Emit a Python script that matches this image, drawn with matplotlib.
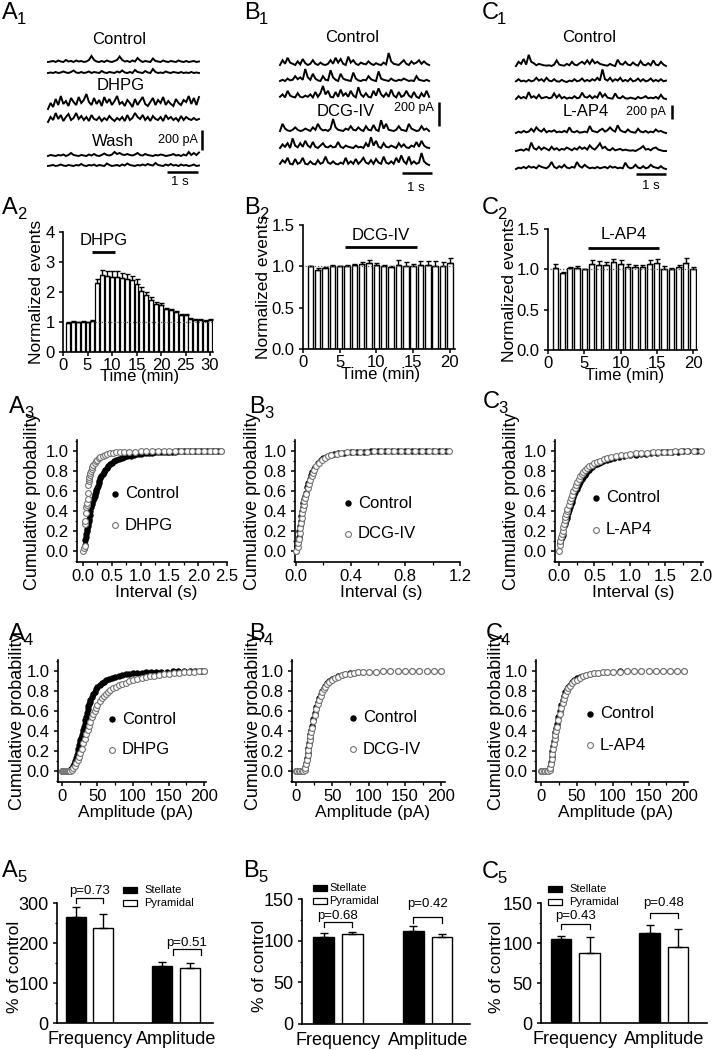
import numpy as np
import matplotlib
matplotlib.use('Agg')
import matplotlib.pyplot as plt
from matplotlib.patches import Rectangle
from matplotlib.lines import Line2D
from matplotlib.ticker import MultipleLocator, FormatStrFormatter

plt.rcParams['font.family'] = ['Liberation Sans', 'DejaVu Sans']
plt.rcParams['mathtext.default'] = 'regular'
plt.rcParams['axes.linewidth'] = 1.2
plt.rcParams['xtick.major.width'] = 1.1
plt.rcParams['ytick.major.width'] = 1.1
plt.rcParams['xtick.minor.width'] = 0.9
plt.rcParams['ytick.minor.width'] = 0.9
plt.rcParams['xtick.major.size'] = 3
plt.rcParams['ytick.major.size'] = 3
plt.rcParams['xtick.minor.size'] = 1.8
plt.rcParams['ytick.minor.size'] = 1.8
plt.rcParams['xtick.major.pad'] = 2.0
plt.rcParams['ytick.major.pad'] = 3.0

# ---------------- DATA ----------------
# Example sEPSC traces (pA, upward deflections), sampled evenly over each sweep
a_ctrl1 = [0,5,10,0,15,5,0,20,5,10,0,15,5,10,0,5,20,60,20,5,0,10,0,15,5,0,10,20,55,20,5,10,0,15,5,40,15,0,10,5,0,35,10,5,0,15,5,0,10,5,0,15,5,0,10,0,5,10,0,5]
a_ctrl2 = [0,5,0,10,0,5,15,5,0,10,25,5,0,10,0,5,15,0,10,5,0,20,5,0,10,5,0,15,5,25,5,0,10,0,30,10,5,0,20,5,0,40,10,0,5,0,15,5,0,10,5,0,10,0,5,0,10,0,5,0]
a_dhpg1 = [20,80,40,120,60,150,70,100,50,130,90,60,140,80,110,170,90,60,130,70,110,50,140,80,120,60,100,150,70,90,50,110,80,40,120,60,100,140,70,50,90,130,60,110,80,140,60,100,70,50,120,80,60,110,90,150,70,130,60,140]
a_dhpg2 = [40,90,60,130,70,110,50,90,120,60,80,130,70,100,60,90,50,110,70,60,90,50,80,60,100,70,50,80,60,90,50,110,60,80,130,90,70,110,60,90,50,100,70,60,90,50,110,70,90,60,80,50,100,60,90,70,60,80,60,70]
a_wash1 = [0,10,5,0,10,5,15,0,10,30,10,5,0,10,5,0,15,5,20,5,0,10,25,10,5,15,40,20,30,15,10,20,10,5,15,30,10,5,20,10,5,0,10,5,15,10,0,5,10,20,5,10,0,15,5,40,10,30,10,35]
a_wash2 = [0,5,10,0,5,15,5,0,10,5,0,10,5,20,5,0,10,5,15,0,10,5,0,25,10,0,5,10,0,15,5,25,10,5,0,10,5,15,5,20,10,5,30,10,5,0,15,5,20,5,10,0,15,5,10,0,5,15,0,5]

b_ctrl1 = [0,40,10,60,20,10,0,30,5,50,15,0,10,40,10,0,20,5,0,10,40,10,60,20,50,10,0,70,20,40,10,0,20,10,5,30,10,0,15,5,0,20,5,100,30,10,5,0,20,40,10,0,30,10,20,40,10,30,10,0]
b_ctrl2 = [0,10,0,20,5,10,40,15,30,10,100,30,10,60,20,5,0,40,10,5,90,30,10,0,60,20,10,5,0,70,20,5,0,10,5,40,15,5,0,80,20,10,5,0,20,5,0,10,5,20,10,0,5,0,40,10,5,0,10,0]
b_ctrl3 = [10,30,5,60,20,10,5,40,10,5,20,10,30,5,50,10,40,100,30,60,10,5,50,10,70,20,40,10,60,20,5,90,30,10,40,10,5,60,20,80,30,10,40,10,70,20,5,50,10,20,60,20,5,50,10,0,40,10,60,10]
b_dcg1 = [0,60,20,5,0,10,30,10,0,5,20,10,0,30,10,60,20,5,10,0,20,100,30,10,5,0,20,10,40,10,5,30,10,0,40,10,5,50,10,0,90,20,60,10,5,0,10,40,10,5,0,60,20,10,0,5,40,10,20,0]
b_dcg2 = [0,30,10,40,0,80,20,5,40,10,60,20,5,50,10,0,20,40,10,5,20,5,10,50,10,0,20,10,5,0,20,5,10,0,40,10,90,20,60,10,0,40,10,5,20,10,0,40,10,30,5,0,20,10,50,10,60,20,5,0]
b_dcg3 = [10,40,20,60,10,5,50,10,20,60,10,5,30,10,5,40,10,20,70,20,10,30,10,5,20,10,60,10,30,10,50,10,30,60,20,10,40,10,50,20,10,70,20,10,30,10,60,20,80,30,10,70,10,30,10,20,100,30,10,0]

c_ctrl1 = [0,60,30,100,20,160,60,40,10,30,20,10,5,10,0,20,80,20,10,5,30,10,60,20,10,40,60,30,80,30,90,40,60,30,20,10,5,30,10,0,90,30,20,60,20,10,50,20,5,70,20,10,40,10,80,20,10,60,20,0]
c_ctrl2 = [10,40,10,20,5,30,10,20,60,20,40,10,60,20,10,40,10,5,30,10,0,20,10,40,10,20,50,10,30,10,40,20,60,20,180,40,20,60,10,40,20,60,10,30,10,50,10,20,50,10,40,10,20,50,10,30,10,40,10,20]
c_ctrl3 = [0,40,10,30,10,100,20,40,10,60,10,20,30,10,20,80,20,60,10,30,5,20,10,40,10,20,90,30,20,50,10,40,20,100,30,70,20,10,5,80,20,10,40,10,5,20,10,0,30,10,20,40,10,20,10,30,5,60,10,0]
c_lap1 = [0,20,5,30,10,20,60,20,80,40,20,60,10,30,20,40,10,20,10,30,10,80,20,10,30,5,10,20,10,100,30,20,10,40,60,20,40,80,40,20,110,40,20,10,50,20,10,5,60,20,10,30,5,20,10,50,20,30,10,0]
c_lap2 = [0,10,20,5,30,10,120,40,20,60,20,50,30,10,60,20,40,10,30,20,50,30,10,40,20,60,30,50,20,80,40,20,60,110,40,60,20,10,40,10,20,30,10,20,10,5,10,0,20,40,70,20,30,10,40,50,20,10,0,0]
c_lap3 = [0,20,10,30,10,40,20,30,10,50,30,20,10,40,100,30,10,40,20,60,20,10,30,20,100,40,20,60,30,10,20,10,30,10,20,30,10,40,20,30,10,20,10,90,30,10,20,60,20,10,40,10,20,60,30,20,10,40,10,0]

# Normalized event time courses
a2_time = list(range(1, 31))
a2_vals = [0.97,1.0,0.99,1.0,0.99,1.03,2.3,2.56,2.52,2.51,2.5,2.47,2.44,2.39,2.28,2.03,1.89,1.74,1.61,1.56,1.42,1.39,1.33,1.24,1.22,1.11,1.08,1.06,1.03,1.06]
a2_err = [0.02,0.02,0.02,0.02,0.02,0.03,0.12,0.18,0.18,0.2,0.2,0.18,0.17,0.16,0.15,0.13,0.1,0.08,0.07,0.07,0.06,0.05,0.05,0.04,0.04,0.04,0.03,0.03,0.03,0.03]
a2_drug = [5.85, 10.6]
b2_time = list(range(1, 21))
b2_vals = [1.0,0.96,0.98,1.0,1.0,1.01,1.02,1.03,1.04,1.02,1.0,0.99,1.02,1.01,1.0,1.02,1.02,1.01,1.01,1.04]
b2_err = [0.01,0.02,0.01,0.02,0.01,0.01,0.01,0.02,0.04,0.02,0.02,0.01,0.06,0.04,0.03,0.05,0.05,0.05,0.04,0.06]
b2_drug = [5.7, 15.5]
c2_time = list(range(1, 21))
c2_vals = [1.02,0.95,1.02,1.02,1.0,1.06,1.05,1.05,1.09,1.07,1.03,1.03,1.03,1.07,1.08,1.01,1.0,1.03,1.08,1.01]
c2_err = [0.05,0.02,0.01,0.02,0.0,0.05,0.05,0.04,0.04,0.04,0.04,0.02,0.02,0.05,0.05,0.03,0.02,0.02,0.06,0.02]
c2_drug = [5.5, 15.3]

# Cumulative probability: inter-event interval (s)
a3_ctrl_x = [0.02,0.03,0.035,0.045,0.055,0.065,0.075,0.085,0.09,0.1,0.11,0.12,0.13,0.14,0.15,0.16,0.17,0.185,0.2,0.21,0.22,0.23,0.24,0.255,0.27,0.285,0.3,0.32,0.34,0.36,0.38,0.41,0.44,0.47,0.5,0.54,0.58,0.62,0.67,0.72,0.77,0.83,0.89,0.95,1.0,1.05,1.1,1.15,1.2,1.25,1.3,1.35,1.4,1.45,1.5,1.55,1.6,1.65,1.7,1.75,1.8,1.85,1.9,1.95,2.0,2.05,2.1,2.15,2.2,2.25,2.3,2.35,2.4]
a3_ctrl_y = [0.02,0.06,0.11,0.14,0.17,0.2,0.22,0.25,0.27,0.3,0.32,0.36,0.4,0.44,0.47,0.49,0.51,0.53,0.55,0.57,0.59,0.61,0.63,0.655,0.68,0.705,0.73,0.75,0.77,0.79,0.81,0.83,0.85,0.87,0.885,0.9,0.91,0.92,0.93,0.94,0.95,0.955,0.962,0.968,0.972,0.976,0.979,0.982,0.984,0.986,0.988,0.99,0.991,0.992,0.993,0.994,0.995,0.996,0.996,0.997,0.997,0.998,0.998,0.999,0.999,0.999,1.0,1.0,1.0,1.0,1.0,1.0,1.0]
a3_drug_x = [0.0,0.02,0.03,0.035,0.04,0.05,0.06,0.065,0.075,0.08,0.085,0.09,0.1,0.105,0.11,0.12,0.13,0.14,0.15,0.165,0.18,0.2,0.22,0.24,0.27,0.3,0.34,0.38,0.42,0.47,0.52,0.58,0.65,0.72,0.8,0.9,1.0,1.1,1.2,1.3,1.4,1.5,1.6,1.7,1.8,1.9,2.0,2.1,2.2,2.3,2.4]
a3_drug_y = [0.0,0.03,0.05,0.27,0.3,0.38,0.44,0.46,0.48,0.52,0.58,0.66,0.7,0.72,0.74,0.76,0.78,0.8,0.82,0.84,0.86,0.88,0.9,0.91,0.93,0.94,0.955,0.965,0.972,0.978,0.982,0.986,0.989,0.991,0.993,0.995,0.996,0.997,0.998,0.998,0.999,0.999,1.0,1.0,1.0,1.0,1.0,1.0,1.0,1.0,1.0]
b3_ctrl_x = [0.0,0.01,0.015,0.02,0.025,0.03,0.035,0.04,0.045,0.05,0.055,0.06,0.065,0.07,0.08,0.09,0.1,0.11,0.12,0.13,0.14,0.16,0.18,0.2,0.22,0.25,0.28,0.31,0.35,0.4,0.45,0.5,0.55,0.6,0.65,0.7,0.75,0.8,0.85,0.9,0.95,1.0,1.05,1.1]
b3_ctrl_y = [0.0,0.05,0.09,0.14,0.2,0.25,0.3,0.35,0.4,0.44,0.48,0.52,0.55,0.58,0.64,0.68,0.72,0.76,0.79,0.82,0.84,0.88,0.91,0.93,0.945,0.96,0.97,0.978,0.985,0.99,0.993,0.995,0.997,0.998,0.998,0.999,0.999,1,1,1,1,1,1,1]
b3_drug_x = [0.0,0.012,0.017,0.022,0.027,0.032,0.037,0.042,0.047,0.052,0.057,0.062,0.067,0.072,0.085,0.095,0.105,0.115,0.125,0.135,0.15,0.17,0.19,0.21,0.235,0.26,0.3,0.33,0.37,0.42,0.47,0.52,0.57,0.62,0.67,0.72,0.77,0.82,0.87,0.92,0.97,1.02,1.07,1.12]
b3_drug_y = [0.0,0.04,0.08,0.12,0.18,0.23,0.28,0.33,0.38,0.42,0.46,0.5,0.53,0.57,0.63,0.67,0.71,0.75,0.78,0.81,0.85,0.88,0.91,0.93,0.95,0.96,0.972,0.98,0.986,0.99,0.993,0.995,0.997,0.998,0.998,0.999,0.999,1,1,1,1,1,1,1]
c3_ctrl_x = [0.01,0.02,0.03,0.04,0.05,0.06,0.07,0.08,0.09,0.1,0.11,0.12,0.13,0.14,0.155,0.17,0.18,0.19,0.2,0.215,0.23,0.25,0.27,0.285,0.3,0.32,0.34,0.36,0.38,0.4,0.42,0.44,0.47,0.5,0.53,0.56,0.59,0.62,0.67,0.72,0.78,0.85,0.92,1.0,1.08,1.15,1.22,1.3,1.38,1.45,1.52,1.6,1.68,1.75,1.82,1.9,1.95,2.0]
c3_ctrl_y = [0.08,0.1,0.12,0.14,0.16,0.2,0.25,0.27,0.29,0.31,0.33,0.35,0.38,0.41,0.44,0.47,0.49,0.51,0.54,0.57,0.59,0.62,0.65,0.67,0.69,0.72,0.74,0.76,0.78,0.8,0.815,0.83,0.845,0.86,0.87,0.885,0.893,0.9,0.91,0.92,0.93,0.94,0.95,0.96,0.965,0.97,0.975,0.98,0.984,0.987,0.99,0.992,0.994,0.996,0.997,0.998,0.999,1.0]
c3_drug_x = [0.0,0.01,0.02,0.03,0.04,0.05,0.06,0.07,0.08,0.09,0.1,0.11,0.12,0.135,0.15,0.165,0.18,0.2,0.22,0.24,0.26,0.28,0.3,0.32,0.34,0.37,0.4,0.43,0.46,0.5,0.54,0.58,0.63,0.68,0.74,0.8,0.87,0.94,1.0,1.08,1.16,1.24,1.32,1.4,1.48,1.56,1.64,1.72,1.8,1.9,2.0]
c3_drug_y = [0.0,0.06,0.1,0.14,0.17,0.2,0.24,0.27,0.31,0.34,0.37,0.4,0.42,0.46,0.5,0.53,0.56,0.6,0.63,0.66,0.69,0.72,0.75,0.77,0.79,0.81,0.83,0.85,0.865,0.88,0.895,0.905,0.92,0.93,0.94,0.95,0.958,0.965,0.97,0.976,0.981,0.985,0.988,0.991,0.993,0.995,0.996,0.997,0.998,0.999,1.0]

# Cumulative probability: amplitude (pA)
a4_ctrl_x = [0,1,2,3,4,5,6,7,8,9,10,11,12,13,14,15,16,17,18,19,20,21,22,23,24,25,26,27,28,29,30,31,32,33,34,35,36,37,38,39,40,42,44,46,48,50,53,56,59,62,66,70,75,80,85,90,95,100,106,112,118,125,132,140,148,156,164,172,180,188,196,200]
a4_ctrl_y = [0,0,0,0,0,0,0,0,0,0,0,0,0.01,0.02,0.03,0.04,0.05,0.07,0.085,0.1,0.13,0.16,0.19,0.22,0.26,0.29,0.31,0.33,0.36,0.39,0.41,0.44,0.47,0.51,0.54,0.58,0.62,0.65,0.67,0.69,0.71,0.74,0.77,0.79,0.82,0.84,0.86,0.88,0.895,0.91,0.925,0.935,0.945,0.955,0.962,0.968,0.974,0.978,0.982,0.985,0.988,0.99,0.992,0.994,0.995,0.996,0.997,0.998,0.998,0.999,1.0,1.0]
a4_drug_x = [0,1,2,3,4,5,6,7,8,9,10,11,12,14,16,18,20,22,24,26,28,30,32,34,36,38,40,42,44,46,48,50,53,56,59,62,65,68,72,76,80,85,90,95,100,106,112,118,124,130,137,144,151,158,165,172,179,186,193,200]
a4_drug_y = [0,0,0,0,0,0,0,0,0,0,0,0,0.005,0.015,0.03,0.05,0.08,0.11,0.14,0.18,0.22,0.28,0.32,0.37,0.41,0.45,0.49,0.54,0.57,0.6,0.63,0.66,0.7,0.73,0.75,0.77,0.79,0.81,0.83,0.845,0.86,0.87,0.885,0.9,0.91,0.92,0.93,0.94,0.948,0.955,0.962,0.968,0.974,0.979,0.984,0.988,0.991,0.994,0.997,1.0]
b4_ctrl_x = [0,2,4,6,8,10,12,13,14,15,16,17,18,19,20,21,22,24,26,28,30,32,34,36,38,40,43,46,50,54,58,63,68,74,80,86,92,100,110,120,130,140,150,160,170,180,190,200]
b4_ctrl_y = [0,0,0,0,0,0,0.01,0.04,0.08,0.13,0.18,0.23,0.28,0.33,0.37,0.41,0.45,0.52,0.58,0.64,0.69,0.73,0.77,0.8,0.83,0.85,0.88,0.9,0.92,0.935,0.95,0.96,0.968,0.976,0.982,0.987,0.99,0.993,0.995,0.997,0.998,0.999,1,1,1,1,1,1]
b4_drug_x = [0,2,4,6,8,10,12,13,14,15,16,17,18,19,20,21,22,24,26,28,30,32,34,36,38,40,43,46,50,54,58,63,68,74,80,86,92,100,110,120,130,140,150,160,170,180,190,200]
b4_drug_y = [0,0,0,0,0,0,0.01,0.03,0.07,0.11,0.16,0.21,0.26,0.31,0.35,0.39,0.43,0.5,0.56,0.62,0.67,0.71,0.75,0.79,0.82,0.84,0.87,0.89,0.915,0.93,0.945,0.958,0.966,0.975,0.981,0.986,0.99,0.993,0.995,0.997,0.998,0.999,1,1,1,1,1,1]
c4_ctrl_x = [0,2,4,6,8,10,12,13,14,15,16,17,18,19,20,21,22,24,26,28,30,32,34,36,38,40,43,46,50,54,58,63,68,74,80,86,92,100,110,120,130,140,150,160,170,180,190,200]
c4_ctrl_y = [0,0,0,0,0,0,0.01,0.04,0.09,0.14,0.2,0.25,0.3,0.35,0.39,0.43,0.47,0.54,0.6,0.66,0.71,0.75,0.79,0.82,0.84,0.86,0.89,0.91,0.93,0.945,0.955,0.965,0.972,0.979,0.984,0.988,0.991,0.994,0.996,0.997,0.998,0.999,1,1,1,1,1,1]
c4_drug_x = [0,2,4,6,8,10,12,13,14,15,16,17,18,19,20,21,22,24,26,28,30,32,34,36,38,40,43,46,50,54,58,63,68,74,80,86,92,100,110,120,130,140,150,160,170,180,190,200]
c4_drug_y = [0,0,0,0,0,0,0.01,0.03,0.07,0.12,0.17,0.22,0.27,0.32,0.36,0.4,0.44,0.51,0.57,0.63,0.68,0.72,0.76,0.8,0.83,0.85,0.88,0.9,0.915,0.935,0.948,0.96,0.968,0.976,0.982,0.987,0.99,0.993,0.995,0.997,0.998,0.999,1,1,1,1,1,1]

# % of control summary
groups = ['Frequency', 'Amplitude']
a5_stellate = [265, 142]; a5_stellate_err = [25, 10]
a5_pyramidal = [237, 137]; a5_pyramidal_err = [35, 12]
a5_p = ['p=0.73', 'p=0.51']
b5_stellate = [104, 112]; b5_stellate_err = [5, 6]
b5_pyramidal = [108, 104]; b5_pyramidal_err = [3, 4]
b5_p = ['p=0.68', 'p=0.42']
c5_stellate = [105, 113]; c5_stellate_err = [4, 9]
c5_pyramidal = [87, 95]; c5_pyramidal_err = [20, 22]
c5_p = ['p=0.43', 'p=0.48']

# ---------------- FIGURE ----------------
W, H = 716, 1050
fig = plt.figure(figsize=(W / 100, H / 100), dpi=100)


def add_ax(x0, y0, x1, y1):
    return fig.add_axes([x0 / W, 1 - y1 / H, (x1 - x0) / W, (y1 - y0) / H])


def ftext(x, y, s, **kw):
    kw.setdefault('ha', 'center')
    kw.setdefault('va', 'center')
    return fig.text(x / W, 1 - y / H, s, **kw)


def panel_label(x, y, letter, num):
    ftext(x, y, letter, fontsize=17, ha='left', va='baseline')
    ftext(x + 15, y + 5, str(num), fontsize=12, ha='left', va='baseline')


def style_axes(ax, size):
    ax.spines['top'].set_visible(False)
    ax.spines['right'].set_visible(False)
    ax.tick_params(labelsize=size, direction='out')
    ax.tick_params(which='minor', direction='out')


# ---- row 1: traces ----
def trace_panel(x0, y0, x1, y1, t0_px, px_per_s, pa_per_px, traces, bases, length_s,
                vbar, hbar):
    ax = add_ax(x0, y0, x1, y1)
    ax.axis('off')
    ax.set_xlim((x0 - t0_px) / px_per_s, (x1 - t0_px) / px_per_s)
    ax.set_ylim(0, (y1 - y0) * pa_per_px)
    for tr, b in zip(traces, bases):
        t = np.linspace(0, length_s, len(tr))
        ax.plot(t, (y1 - b) * pa_per_px + np.array(tr), color='black', lw=1.4,
                solid_joinstyle='miter')
    vx, vbot = vbar
    ax.plot([(vx - t0_px) / px_per_s] * 2, [(y1 - vbot) * pa_per_px, (y1 - vbot) * pa_per_px + 200],
            color='black', lw=1.8, solid_capstyle='butt')
    hx, hy = hbar
    ax.plot([(hx - t0_px) / px_per_s, (hx - t0_px) / px_per_s + 1], [(y1 - hy) * pa_per_px] * 2,
            color='black', lw=1.8, solid_capstyle='butt')
    return ax


trace_panel(40, 45, 215, 190, 48, 31, 10.0,
            [a_ctrl1, a_ctrl2, a_dhpg1, a_dhpg2, a_wash1, a_wash2],
            [62, 73, 111, 126, 156, 166], 4.87, (202, 150), (167, 172))
ftext(119, 39, 'Control', fontsize=12)
ftext(121, 86, 'DHPG', fontsize=12)
ftext(113, 141, 'Wash', fontsize=12)
ftext(178, 140, '200 pA', fontsize=9)
ftext(180, 182, '1 s', fontsize=9.5)
panel_label(2, 19, 'A', 1)

trace_panel(272, 45, 450, 190, 280, 30, 8.33,
            [b_ctrl1, b_ctrl2, b_ctrl3, b_dcg1, b_dcg2, b_dcg3],
            [65, 81, 98, 131, 148, 165], 4.97, (439, 126), (402, 173))
ftext(352, 37, 'Control', fontsize=12)
ftext(346, 111, 'DCG-IV', fontsize=12)
ftext(414, 108, '200 pA', fontsize=9)
ftext(416, 188, '1 s', fontsize=9.5)
panel_label(244, 19, 'B', 1)

trace_panel(508, 45, 690, 190, 516, 30, 14.3,
            [c_ctrl1, c_ctrl2, c_ctrl3, c_lap1, c_lap2, c_lap3],
            [66, 82, 99, 133, 151, 169], 5.0, (672, 119), (636, 174))
ftext(589, 37, 'Control', fontsize=12)
ftext(586, 112, 'L-AP4', fontsize=12)
ftext(646, 112, '200 pA', fontsize=9)
ftext(651, 186, '1 s', fontsize=9.5)
panel_label(482, 19, 'C', 1)


# ---- row 2: normalized events ----
def norm_panel(box, t, v, e, drug, drug_name, xlim, ylim, yticks, yfmt, dotted_from,
               drug_y, text_y, ylab_x, xlab_y, bw, blw):
    ax = add_ax(*box)
    ax.bar(t, v, width=bw, color='white', edgecolor='black', linewidth=blw, zorder=2)
    ax.errorbar(t, v, yerr=[np.zeros(len(e)), e], fmt='none', ecolor='black',
                elinewidth=1.0, capsize=1.8, capthick=1.0, zorder=3)
    ax.plot([dotted_from, xlim[1]], [1, 1], ls=(0, (1, 1.5)), color='0.35', lw=0.9, zorder=4)
    ax.plot(drug, [drug_y, drug_y], color='black', lw=2.0, clip_on=False,
            solid_capstyle='butt')
    ax.text(np.mean(drug), text_y, drug_name, ha='center', va='center', fontsize=12)
    ax.set_xlim(*xlim)
    ax.set_ylim(*ylim)
    ax.set_yticks(yticks)
    ax.yaxis.set_major_formatter(FormatStrFormatter(yfmt))
    ax.set_xticks([0, 5, 10, 15, 20, 25, 30] if xlim[1] > 25 else [0, 5, 10, 15, 20])
    style_axes(ax, 12)
    ax.tick_params(axis='x', pad=1.0)
    x0, y0, x1, y1 = box
    ftext(ylab_x, (y0 + y1) / 2, 'Normalized events', fontsize=12.5, rotation=90)
    ftext((x0 + x1) / 2 + 2, xlab_y, 'Time (min)', fontsize=12)
    return ax


norm_panel((63, 232, 213, 352), a2_time, a2_vals, a2_err, a2_drug, 'DHPG',
           (0, 30.6), (0, 4), [0, 1, 2, 3, 4], '%d', 6.5, 3.33, 3.72, 37, 377, 0.8, 0.9)
panel_label(2, 214, 'A', 2)
norm_panel((303, 225, 455, 349), b2_time, b2_vals, b2_err, b2_drug, 'DCG-IV',
           (0, 20.7), (0, 1.5), [0, 0.5, 1.0, 1.5], '%.1f', 0.3, 1.23, 1.37, 264, 374, 0.74, 1.0)
panel_label(244, 214, 'B', 2)
norm_panel((548, 229, 697, 350), c2_time, c2_vals, c2_err, c2_drug, 'L-AP4',
           (0, 20.55), (0, 1.5), [0, 0.5, 1.0, 1.5], '%.1f', 0.3, 1.26, 1.43, 509, 376, 0.74, 1.0)
panel_label(482, 214, 'C', 2)


# ---- rows 3-4: cumulative probability ----
def cum_panel(box, cx, cy, dx, dy, drug_name, xlim, xticks, xminor, xfmt, xlabel,
              leg_x, leg_y1, leg_y2, ylab_x, xlab_y):
    ax = add_ax(*box)
    ax.plot(cx, cy, 'o', ms=3.6, color='black', mec='black', zorder=3, clip_on=False)
    ax.plot(dx, dy, 'o', ms=4.2, mfc='white', mec='0.45', mew=0.8, zorder=4, clip_on=False)
    ax.set_xlim(*xlim)
    ax.set_ylim(-0.11, 1.11)
    ax.set_yticks([0, 0.2, 0.4, 0.6, 0.8, 1.0])
    ax.yaxis.set_major_formatter(FormatStrFormatter('%.1f'))
    ax.yaxis.set_minor_locator(MultipleLocator(0.1))
    ax.set_xticks(xticks)
    ax.xaxis.set_minor_locator(MultipleLocator(xminor))
    ax.xaxis.set_major_formatter(FormatStrFormatter(xfmt))
    style_axes(ax, 12)
    x0, y0, x1, y1 = box
    fig.add_artist(Line2D([leg_x / W], [1 - leg_y1 / H], marker='o', ms=3.6, color='black', ls='none'))
    fig.add_artist(Line2D([leg_x / W], [1 - leg_y2 / H], marker='o', ms=4.2, mfc='white',
                          mec='0.45', mew=0.8, ls='none'))
    ftext(leg_x + 10, leg_y1, 'Control', fontsize=12, ha='left')
    ftext(leg_x + 10, leg_y2, drug_name, fontsize=12, ha='left')
    ftext(ylab_x, (y0 + y1) / 2, 'Cumulative probability', fontsize=13, rotation=90)
    ftext((x0 + x1) / 2 + 4, xlab_y, xlabel, fontsize=12.5)
    return ax


cum_panel((77, 440, 227, 562), a3_ctrl_x, a3_ctrl_y, a3_drug_x, a3_drug_y, 'DHPG',
          (-0.104, 2.5), [0, 0.5, 1.0, 1.5, 2.0, 2.5], 0.25, '%.1f', 'Interval (s)',
          115, 494, 525, 33, 593)
panel_label(9, 413, 'A', 3)
cum_panel((295, 440, 460, 562), b3_ctrl_x, b3_ctrl_y, b3_drug_x, b3_drug_y, 'DCG-IV',
          (-0.007, 1.2), [0, 0.4, 0.8, 1.2], 0.2, '%.1f', 'Interval (s)',
          348, 503, 534, 253, 592)
panel_label(249, 413, 'B', 3)
cum_panel((555, 440, 703, 562), c3_ctrl_x, c3_ctrl_y, c3_drug_x, c3_drug_y, 'L-AP4',
          (-0.056, 2.03), [0, 0.5, 1.0, 1.5, 2.0], 0.25, '%.1f', 'Interval (s)',
          596, 498, 530, 511, 592)
panel_label(483, 408, 'C', 3)

cum_panel((58, 660, 206, 782), a4_ctrl_x, a4_ctrl_y, a4_drug_x, a4_drug_y, 'DHPG',
          (-5.6, 202.8), [0, 50, 100, 150, 200], 25, '%d', 'Amplitude (pA)',
          112, 719, 750, 18, 813)
panel_label(9, 640, 'A', 4)
cum_panel((292, 660, 445, 782), b4_ctrl_x, b4_ctrl_y, b4_drug_x, b4_drug_y, 'DCG-IV',
          (-5.5, 205.5), [0, 50, 100, 150, 200], 25, '%d', 'Amplitude (pA)',
          353, 718, 749, 254, 813)
panel_label(249, 640, 'B', 4)
cum_panel((536, 660, 688, 782), c4_ctrl_x, c4_ctrl_y, c4_drug_x, c4_drug_y, 'L-AP4',
          (-7.0, 205.0), [0, 50, 100, 150, 200], 25, '%d', 'Amplitude (pA)',
          590, 714, 745, 497, 813)
panel_label(486, 640, 'C', 4)


# ---- row 5: % of control ----
def pct_panel(box, st, st_e, py, py_e, pvals, ylim, yticks, yminor, xlim,
              brackets, leg_x, leg_y1, leg_y2, leg_tx, ylab_x):
    ax = add_ax(*box)
    x = np.arange(len(groups))
    off, w = 0.16, 0.23
    ax.bar(x - off, st, width=w, color='black', edgecolor='black', linewidth=1.0)
    ax.bar(x + off, py, width=w, color='white', edgecolor='black', linewidth=1.0)
    ax.errorbar(x - off, st, yerr=[np.zeros(2), st_e], fmt='none', ecolor='black',
                elinewidth=1.0, capsize=3, capthick=1.0)
    ax.errorbar(x + off, py, yerr=[np.zeros(2), py_e], fmt='none', ecolor='black',
                elinewidth=1.0, capsize=3, capthick=1.0)
    for (bx0, bx1, by, btick, ty), p in zip(brackets, pvals):
        ax.plot([bx0, bx0, bx1, bx1], [btick, by, by, btick], color='black', lw=0.9,
                clip_on=False)
        ax.text((bx0 + bx1) / 2, ty, p, ha='center', va='center', fontsize=9.5)
    ax.set_xlim(*xlim)
    ax.set_ylim(*ylim)
    ax.set_yticks(yticks)
    ax.yaxis.set_minor_locator(MultipleLocator(yminor))
    ax.set_xticks(x)
    ax.set_xticklabels(groups, fontsize=13)
    style_axes(ax, 13)
    ax.tick_params(axis='x', length=0, pad=6, labelsize=13)
    for yy, fc in ((leg_y1, 'black'), (leg_y2, 'white')):
        fig.add_artist(Rectangle((leg_x / W, 1 - (yy + 2.7) / H), 13.5 / W, 5.4 / H,
                                 facecolor=fc, edgecolor='black', linewidth=0.9,
                                 transform=fig.transFigure))
    ftext(leg_tx, leg_y1, 'Stellate', fontsize=8, ha='left')
    ftext(leg_tx, leg_y2, 'Pyramidal', fontsize=8, ha='left')
    x0, y0, x1, y1 = box
    ftext(ylab_x, (y0 + y1) / 2 + 4, '% of control', fontsize=12.5, rotation=90)
    return ax


pct_panel((57, 903, 213, 1023), a5_stellate, a5_stellate_err, a5_pyramidal, a5_pyramidal_err,
          a5_p, (0, 300), [0, 100, 200, 300], 50, (-0.376, 1.428),
          [(-0.16, 0.16, 312, 300, 330), (0.965, 1.29, 185, 171, 200)],
          123, 890, 903, 144, 15)
panel_label(2, 877, 'A', 5)
pct_panel((302, 899, 470, 1024), b5_stellate, b5_stellate_err, b5_pyramidal, b5_pyramidal_err,
          b5_p, (0, 150), [0, 50, 100, 150], 25, (-0.40, 1.47),
          [(-0.16, 0.16, 122, 116, 129.6), (0.84, 1.16, 128, 121, 144)],
          313, 888, 901, 329, 259)
panel_label(243, 877, 'B', 5)
pct_panel((541, 903, 707, 1023), c5_stellate, c5_stellate_err, c5_pyramidal, c5_pyramidal_err,
          c5_p, (0, 150), [0, 50, 100, 150], 25, (-0.39, 1.49),
          [(-0.16, 0.16, 124, 117, 134), (0.84, 1.16, 137.5, 131, 150)],
          548, 889, 902, 569, 497)
panel_label(482, 878, 'C', 5)

fig.savefig('out.png', dpi=100)
